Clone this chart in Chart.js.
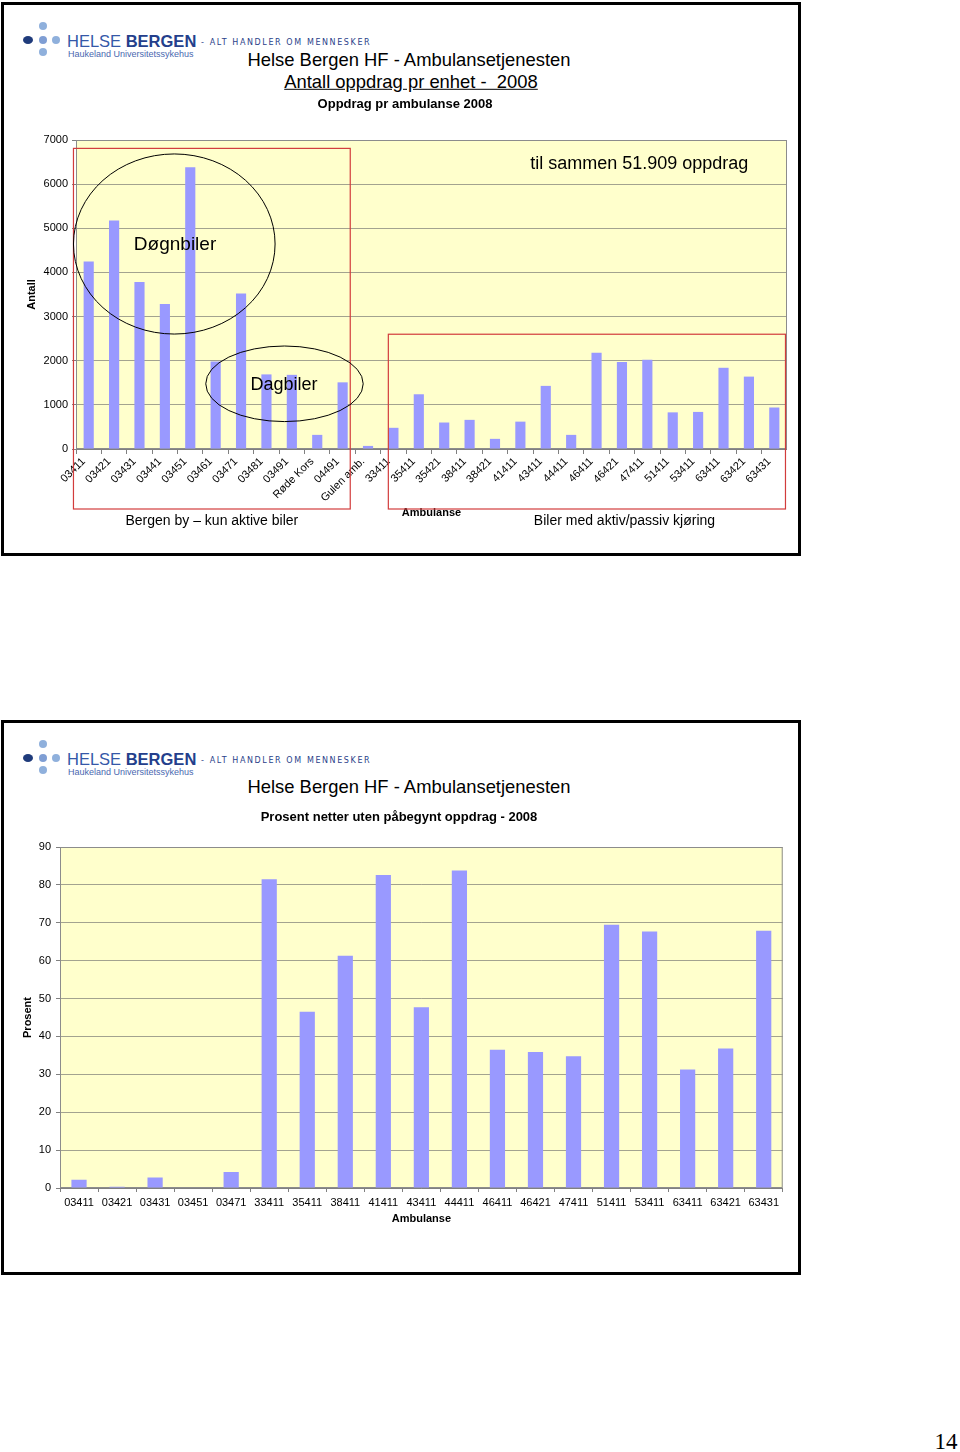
<!DOCTYPE html>
<html>
<head>
<meta charset="utf-8">
<script src="https://cdn.jsdelivr.net/npm/chart.js@4/dist/chart.umd.min.js"></script>
<style>
  body { margin: 0; width: 960px; height: 1452px; position: relative; background: #fff; overflow: hidden;
         font-family: "Liberation Sans", Arial, sans-serif; }
  .frame { position: absolute; left: 1px; width: 800px; border: 3px solid #000; box-sizing: border-box; }
  .t { position: absolute; white-space: nowrap; line-height: 1; transform: translate(-50%, -50%); }
  .l { position: absolute; white-space: nowrap; line-height: 1; transform: translateY(-50%); }
  .dot { position: absolute; border-radius: 50%; transform: translate(-50%, -50%); }
  canvas { position: absolute; }
</style>
</head>
<body>
<div class="frame" style="top:2px;height:554px"></div>
<div class="frame" style="top:720px;height:555px"></div>

<div class="t" style="left:409px;top:60px;font-size:18.4px">Helse Bergen HF - Ambulansetjenesten</div>
<div class="t" style="left:411px;top:82px;font-size:18.4px;text-decoration:underline">Antall oppdrag pr enhet -&nbsp; 2008</div>
<div class="t" style="left:409px;top:787px;font-size:18.4px">Helse Bergen HF - Ambulansetjenesten</div>
<div class="t" style="left:946px;top:1441px;font-size:23px;font-family:'Liberation Serif',serif">14</div>

<canvas id="c1" width="777" height="452" style="left:10px;top:92px"></canvas>
<canvas id="c2" width="778" height="443" style="left:5px;top:800px"></canvas>

<script>
// Oppdrag pr ambulanse 2008
var units = ['03411', '03421', '03431', '03441', '03451', '03461', '03471', '03481', '03491', 'Røde Kors',
             '04491', 'Gulen amb.', '33411', '35411', '35421', '38411', '38421', '41411', '43411', '44411',
             '46411', '46421', '47411', '51411', '53411', '63411', '63421', '63431'];
var oppdrag = [4245, 5175, 3785, 3285, 6380, 1980, 3520, 1690, 1680, 320,
               1510, 70, 480, 1240, 600, 660, 230, 620, 1430, 320,
               2180, 1970, 2020, 830, 840, 1840, 1640, 940];
var antallMax = 7000, antallStep = 1000;

// Prosent netter uten påbegynt oppdrag - 2008
var pctUnits = ['03411', '03421', '03431', '03451', '03471', '33411', '35411', '38411', '41411', '43411',
                '44411', '46411', '46421', '47411', '51411', '53411', '63411', '63421', '63431'];
var prosent = [2.2, 0.3, 2.8, 0, 4.2, 81.5, 46.5, 61.3, 82.6, 47.7,
               83.8, 36.5, 35.9, 34.8, 69.5, 67.7, 31.3, 36.8, 67.9];
var pctMax = 90, pctStep = 10;

var FONT = '"Liberation Sans", Arial, sans-serif';

// logo (HTML, same drawing twice)
function addLogo(top) {
  var dots = [[43, -14, 8, 8, '#8fb0dc'], [28, 0, 10, 8, '#1f3b7b'], [43, 0, 8, 8, '#7f9ed4'],
              [56, 0, 8, 8, '#8fb0dc'], [43, 12, 8, 8, '#8fb0dc']];
  dots.forEach(function (d) {
    var e = document.createElement('div');
    e.className = 'dot';
    e.style.cssText = 'left:' + d[0] + 'px;top:' + (top + d[1]) + 'px;width:' + d[2] + 'px;height:' + d[3] + 'px;background:' + d[4];
    document.body.appendChild(e);
  });
  var h = document.createElement('div');
  h.className = 'l';
  h.style.cssText = 'left:67px;top:' + (top + 1) + 'px;font-size:16.5px;color:#3558a8';
  h.innerHTML = 'HELSE <b style="color:#243f8c">BERGEN</b>';
  document.body.appendChild(h);
  var s = document.createElement('div');
  s.className = 'l';
  s.style.cssText = 'left:68px;top:' + (top + 14) + 'px;font-size:9px;color:#4a68b0';
  s.textContent = 'Haukeland Universitetssykehus';
  document.body.appendChild(s);
  var tg = document.createElement('div');
  tg.className = 'l';
  tg.style.cssText = 'left:201px;top:' + (top + 3) + 'px;font-size:8px;letter-spacing:1.6px;color:#2b3f8a;font-family:"DejaVu Sans",sans-serif';
  tg.textContent = '- ALT HANDLER OM MENNESKER';
  document.body.appendChild(tg);
}
addLogo(40);
addLogo(758);

// plot area: yellow fill + grey frame
var plotBg = {
  id: 'plotBg',
  beforeDraw: function (chart) {
    var a = chart.chartArea, ctx = chart.ctx;
    ctx.save();
    ctx.fillStyle = '#ffffcc';
    ctx.fillRect(a.left, a.top, a.right - a.left, a.bottom - a.top);
    ctx.restore();
  },
  beforeDatasetsDraw: function (chart) {
    var a = chart.chartArea, ctx = chart.ctx;
    ctx.save();
    ctx.strokeStyle = '#8c8c8c';
    ctx.lineWidth = 1;
    ctx.strokeRect(a.left + 0.5, a.top + 0.5, a.right - a.left - 1, a.bottom - a.top - 1);
    ctx.restore();
  }
};

// markeringer i første diagram (kategori-indeks / verdi)
var groupBoxes = [{ from: -0.6, to: 10.3, top: 6810 }, { from: 11.8, to: 27.44, top: 2600 }];
var rings = [{ x: 3.37, y: 4644, rx: 3.97, ry: 2040 }, { x: 7.71, y: 1477, rx: 3.1, ry: 856 }];
var notes = [
  { text: 'Døgnbiler', x: 3.4, y: 4620, size: 19 },
  { text: 'Dagbiler', x: 7.69, y: 1450, size: 18 },
  { text: 'til sammen 51.909 oppdrag', x: 21.68, y: 6457, size: 18 }
];
var footNotes = [{ text: 'Bergen by – kun aktive biler', x: 4.85 }, { text: 'Biler med aktiv/passiv kjøring', x: 21.1 }];

var markings = {
  id: 'markings',
  afterDraw: function (chart) {
    var ctx = chart.ctx, xs = chart.scales.x, ys = chart.scales.y, b = chart.chartArea.bottom;
    ctx.save();
    ctx.strokeStyle = '#d23c3c';
    ctx.lineWidth = 1.2;
    groupBoxes.forEach(function (g) {
      var l = xs.getPixelForValue(g.from), r = xs.getPixelForValue(g.to), t = ys.getPixelForValue(g.top);
      ctx.strokeRect(l, t, r - l, b + 60 - t);
    });
    ctx.strokeStyle = '#000';
    ctx.lineWidth = 1;
    rings.forEach(function (e) {
      var cx = xs.getPixelForValue(e.x), cy = ys.getPixelForValue(e.y);
      var rx = xs.getPixelForValue(e.x + e.rx) - cx, ry = cy - ys.getPixelForValue(e.y + e.ry);
      ctx.beginPath();
      ctx.ellipse(cx, cy, rx, ry, 0, 0, Math.PI * 2);
      ctx.stroke();
    });
    ctx.fillStyle = '#000';
    ctx.textAlign = 'center';
    ctx.textBaseline = 'middle';
    notes.forEach(function (n) {
      ctx.font = n.size + 'px ' + FONT;
      ctx.fillText(n.text, xs.getPixelForValue(n.x), ys.getPixelForValue(n.y));
    });
    ctx.font = '14px ' + FONT;
    footNotes.forEach(function (n) {
      ctx.fillText(n.text, xs.getPixelForValue(n.x), b + 72);
    });
    ctx.restore();
  }
};

function tickFont(size, bold) {
  return { family: FONT, size: size, weight: bold ? 'bold' : 'normal' };
}
function plainNumber(v) { return String(v); }

new Chart(document.getElementById('c1'), {
  type: 'bar',
  data: {
    labels: units,
    datasets: [{ data: oppdrag, backgroundColor: '#9999ff', barPercentage: 0.4, categoryPercentage: 1 }]
  },
  options: {
    responsive: false,
    animation: false,
    devicePixelRatio: 1,
    layout: { padding: { left: 13, right: 0, top: 0, bottom: 15 } },
    plugins: {
      legend: { display: false },
      tooltip: { enabled: false },
      title: { display: true, text: 'Oppdrag pr ambulanse 2008', color: '#000',
               font: tickFont(13, true), padding: { top: 4.2, bottom: 28.2 } }
    },
    scales: {
      x: {
        grid: { offset: true, drawOnChartArea: false, drawTicks: true, tickLength: 5, color: '#808080' },
        border: { color: '#808080' },
        ticks: { autoSkip: false, minRotation: 45, maxRotation: 45, color: '#000', font: tickFont(11),
                 padding: 1, labelOffset: -5 },
        title: { display: true, text: 'Ambulanse', color: '#000', font: tickFont(11, true), padding: { top: 0, bottom: 9.4 } },
        afterFit: function (s) { s.height = 80; }
      },
      y: {
        min: 0, max: antallMax,
        ticks: { stepSize: antallStep, color: '#000', font: tickFont(11), padding: 4, callback: plainNumber },
        grid: { color: '#a3a38f', tickLength: 4, tickColor: '#808080' },
        border: { color: '#808080' },
        title: { display: true, text: 'Antall', color: '#000', font: tickFont(11, true), padding: { top: 2.4, bottom: 0 } },
        afterFit: function (s) { s.width = 53; }
      }
    }
  },
  plugins: [plotBg, markings]
});

new Chart(document.getElementById('c2'), {
  type: 'bar',
  data: {
    labels: pctUnits,
    datasets: [{ data: prosent, backgroundColor: '#9999ff', barPercentage: 0.4, categoryPercentage: 1 }]
  },
  options: {
    responsive: false,
    animation: false,
    devicePixelRatio: 1,
    layout: { padding: { left: 10, right: 0, top: 0, bottom: 10 } },
    plugins: {
      legend: { display: false },
      tooltip: { enabled: false },
      title: { display: true, text: 'Prosent netter uten påbegynt oppdrag - 2008', color: '#000',
               font: tickFont(13, true), padding: { top: 9.2, bottom: 22.2 } }
    },
    scales: {
      x: {
        grid: { offset: true, drawOnChartArea: false, drawTicks: true, tickLength: 4, color: '#808080' },
        border: { color: '#808080' },
        ticks: { autoSkip: false, maxRotation: 0, color: '#000', font: tickFont(11), padding: 4 },
        title: { display: true, text: 'Ambulanse', color: '#000', font: tickFont(11, true), padding: { top: 0, bottom: 7.1 } },
        afterFit: function (s) { s.height = 45; }
      },
      y: {
        min: 0, max: pctMax,
        ticks: { stepSize: pctStep, color: '#000', font: tickFont(11), padding: 5, callback: plainNumber },
        grid: { color: '#a3a38f', tickLength: 4, tickColor: '#808080' },
        border: { color: '#808080' },
        title: { display: true, text: 'Prosent', color: '#000', font: tickFont(11, true), padding: { top: 6.4, bottom: 0 } },
        afterFit: function (s) { s.width = 45; }
      }
    }
  },
  plugins: [plotBg]
});
</script>
</body>
</html>
